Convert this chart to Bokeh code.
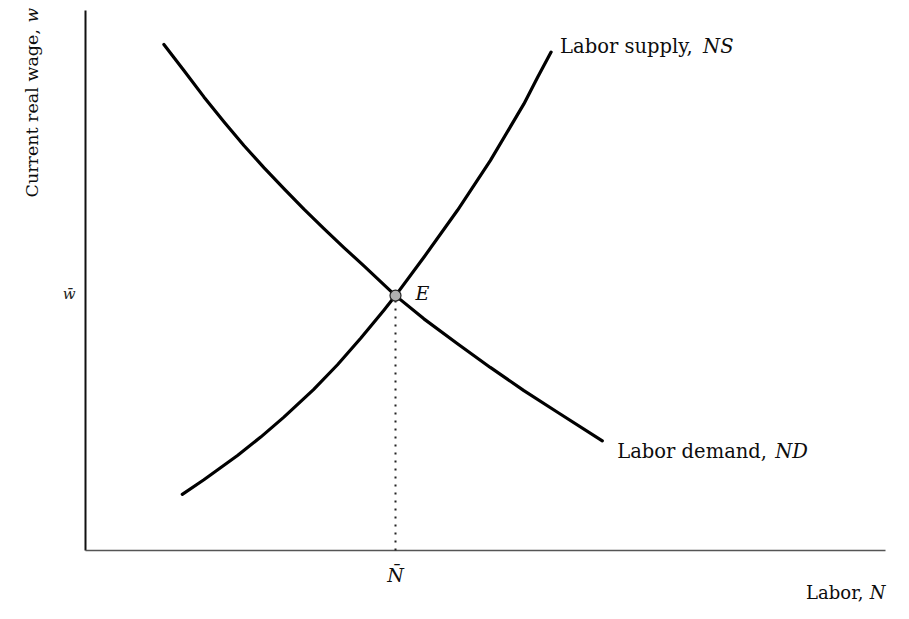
from bokeh.plotting import figure
from bokeh.models import Label
from bokeh.embed import file_html
from bokeh.resources import INLINE
import math

# ---- data (labor N on x, real wage w on y) ----
nd_labor = [0.98, 1.23, 1.48, 1.73, 1.98, 2.23, 2.48, 2.73, 2.98, 3.23, 3.48, 3.875,
            4.23, 4.65, 5.06, 5.48, 5.90, 6.46]
nd_wage = [9.37, 8.89, 8.40, 7.94, 7.50, 7.09, 6.70, 6.32, 5.96, 5.61, 5.27, 4.72,
           4.29, 3.83, 3.39, 2.96, 2.56, 2.03]

ns_labor = [1.21, 1.48, 1.90, 2.19, 2.48, 2.85, 3.15, 3.44, 3.73, 3.875,
            4.23, 4.65, 5.06, 5.48, 5.65, 5.82]
ns_wage = [1.04, 1.31, 1.76, 2.10, 2.47, 2.98, 3.44, 3.93, 4.45, 4.72,
           5.43, 6.30, 7.22, 8.27, 8.76, 9.23]

eq_labor = [3.875]
eq_wage = [4.72]
x_tick_label = "N\u0304"
y_tick_label = "w\u0304"

# axis extents (data units)
x_min, x_max = 0, 10
y_min, y_max = 0, 10

FONT = "DejaVu Serif"
INK = "#0d0d0d"

W, H = 893, 603
PX_X = 80.0   # pixels per labor unit
PX_Y = 54.0   # pixels per wage unit
LEFT, BOTTOM = 85, 53   # room for the axis texts

p = figure(width=W, height=H,
           x_range=(x_min - LEFT / PX_X, x_min + (W - LEFT) / PX_X),
           y_range=(y_min - BOTTOM / PX_Y, y_min + (H - BOTTOM) / PX_Y),
           output_backend="svg", toolbar_location=None,
           x_axis_type=None, y_axis_type=None,
           min_border=0, min_border_left=0, min_border_right=0,
           min_border_top=0, min_border_bottom=0)
p.outline_line_color = None
p.background_fill_color = "white"
p.border_fill_color = "white"

# axes
p.line([x_min, x_min], [y_min, y_max], line_color="#111111", line_width=2)
p.line([x_min, x_max], [y_min, y_min], line_color="#555555", line_width=1.5)

# dotted drop line from equilibrium to the labor axis
p.line([eq_labor[0], eq_labor[0]], [y_min, eq_wage[0]], line_color="#222222",
       line_width=2, line_dash="2 6")

# curves
p.line(nd_labor, nd_wage, line_color="black", line_width=3.2, line_join="round", line_cap="round")
p.line(ns_labor, ns_wage, line_color="black", line_width=3.2, line_join="round", line_cap="round")

# equilibrium point
p.scatter(eq_labor, eq_wage, size=11, fill_color="#b0b0b0", line_color="#222222", line_width=1.2)

def lab(x, y, text, xo=0, yo=0, style="normal", size="19.5px", align="left", angle=0, color=INK):
    p.add_layout(Label(x=x, y=y, text=text, x_offset=xo, y_offset=yo,
                       text_font=FONT, text_font_style=style, text_font_size=size,
                       text_color=color, text_align=align, text_baseline="alphabetic",
                       angle=angle))

# tick-like labels
lab(eq_labor[0], y_min, x_tick_label, xo=0, yo=-24, style="italic", size="19px", align="center")
lab(x_min, eq_wage[0], y_tick_label, xo=-10, yo=2, style="italic", size="15px", align="right",
    color="#222222")

lab(eq_labor[0], eq_wage[0], "E", xo=20, yo=3, style="italic", size="19px")
lab(ns_labor[-1], ns_wage[-1], "Labor supply,", xo=9, yo=6)
lab(ns_labor[-1], ns_wage[-1], "NS", xo=152, yo=6, style="italic")
lab(nd_labor[-1], nd_wage[-1], "Labor demand,", xo=15, yo=-11)
lab(nd_labor[-1], nd_wage[-1], "ND", xo=173, yo=-11, style="italic")

lab(x_max, y_min, "N", xo=0, yo=-42, style="italic", size="18px", align="right")
lab(x_max, y_min, "Labor,", xo=-22, yo=-42, size="18px", align="right")

# rotated y-axis title (reads bottom to top)
lab(x_min, y_max, "Current real wage,", xo=-54, yo=-187, size="17.5px", angle=math.pi / 2)
lab(x_min, y_max, "w", xo=-54, yo=-12, style="italic", size="17px", angle=math.pi / 2)

open("out.html", "w").write(file_html(p, INLINE))
